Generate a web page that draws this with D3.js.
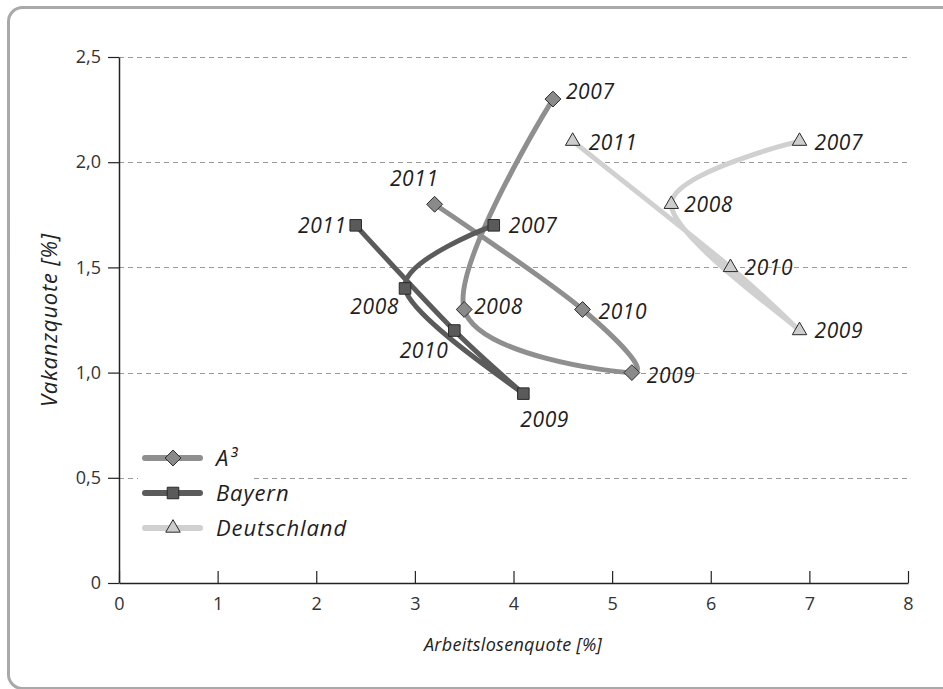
<!DOCTYPE html>
<html>
<head>
<meta charset="utf-8">
<title>Vakanzquote / Arbeitslosenquote</title>
<style>
    body {
        margin: 0;
        padding: 0;
        background: #fff;
        font-family: "Open Sans", "DejaVu Sans", sans-serif;
    }
    .tick text {
        font-family: "Open Sans", sans-serif;
        font-size: 18px;
        fill: #333;
    }
    .domain, .tick line {
        stroke: #222;
    }
    .lbl {
        font-family: "Open Sans", sans-serif;
        font-style: italic;
        font-size: 21px;
        letter-spacing: 0.6px;
        fill: #1e1e1e;
    }
</style>
</head>
<body>
<svg width="943" height="689"></svg>
<script src="https://d3js.org/d3.v7.min.js"></script>
<script>
// daten
var years = [2007, 2008, 2009, 2010, 2011];
var seriesNames = ["A³", "Bayern", "Deutschland"];
var a3X = [4.4, 3.5, 5.2, 4.7, 3.2];
var a3Y = [2.3, 1.3, 1.0, 1.3, 1.8];
var bayernX = [3.8, 2.9, 4.1, 3.4, 2.4];
var bayernY = [1.7, 1.4, 0.9, 1.2, 1.7];
var deX = [6.9, 5.6, 6.9, 6.2, 4.6];
var deY = [2.1, 1.8, 1.2, 1.5, 2.1];
var xTicks = [0, 1, 2, 3, 4, 5, 6, 7, 8];
var yTicks = [0, 0.5, 1.0, 1.5, 2.0, 2.5];

// stil pro serie
var styles = {
    "A³": { line: "#8f8f8f", fill: "#8a8a8a", symbol: d3.symbolDiamond2, size: 160 },
    "Bayern": { line: "#5b5b5b", fill: "#5a5a5a", symbol: d3.symbolSquare2, size: 170 },
    "Deutschland": { line: "#d0d0d0", fill: "#cdcdcd", symbol: d3.symbolTriangle2, size: 150 }
};

// beschriftungen: [anchor, dx, dy]
var labelPos = {
    "A³": [["start", 13, -7], ["start", 10, -3], ["start", 15, 3], ["start", 16, 2], ["end", 4, -26]],
    "Bayern": [["start", 15, 0], ["end", -6, 18], ["start", -3, 26], ["end", -6, 20], ["end", -9, 0]],
    "Deutschland": [["start", 15, 1], ["start", 13, 0], ["start", 15, 0], ["start", 14, 0], ["start", 16, 1]]
};

var seriesData = [
    { name: seriesNames[0], xs: a3X, ys: a3Y },
    { name: seriesNames[1], xs: bayernX, ys: bayernY },
    { name: seriesNames[2], xs: deX, ys: deY }
].map(function(s) {
    s.points = years.map(function(yr, i) {
        return { year: yr, x: s.xs[i], y: s.ys[i], i: i };
    });
    return s;
});

var svg = d3.select("svg");

// rahmen
svg.append("rect")
    .attr("x", 8.5)
    .attr("y", 7.5)
    .attr("width", 960)
    .attr("height", 681)
    .attr("rx", 14)
    .attr("fill", "none")
    .attr("stroke", "#a9a9a9")
    .attr("stroke-width", 3);

var x = d3.scaleLinear().domain([0, 8]).range([119, 908]);
var y = d3.scaleLinear().domain([0, 2.5]).range([583, 57]);

var fmt = function(d) { return d === 0 ? "0" : d3.format(".1f")(d).replace(".", ","); };

// gitterlinien
svg.append("g")
    .selectAll("line")
    .data(yTicks.filter(function(d) { return d > 0; }))
    .enter()
    .append("line")
    .attr("x1", x(0))
    .attr("x2", x(8))
    .attr("y1", function(d) { return Math.round(y(d)) + 0.5; })
    .attr("y2", function(d) { return Math.round(y(d)) + 0.5; })
    .attr("stroke", "#9a9a9a")
    .attr("stroke-width", 1.2)
    .attr("stroke-dasharray", "5,4");

// x-achse
var xAxis = d3.axisBottom(x).tickValues(xTicks).tickFormat(d3.format("d"))
    .tickSizeInner(-12).tickSizeOuter(0).tickPadding(25);
svg.append("g")
    .attr("transform", "translate(0," + y(0) + ")")
    .call(xAxis)
    .call(function(g) {
        g.select(".domain").attr("stroke-width", 1.5);
        g.selectAll(".tick line").attr("stroke-width", 1.2);
        g.selectAll(".tick text").attr("dy", "0.1em");
    });

// y-achse
var yAxis = d3.axisLeft(y).tickValues(yTicks).tickFormat(fmt)
    .tickSizeInner(11).tickSizeOuter(0).tickPadding(7);
svg.append("g")
    .attr("transform", "translate(" + x(0) + ",0)")
    .call(yAxis)
    .call(function(g) {
        g.select(".domain").attr("stroke-width", 1.5);
        g.selectAll(".tick line").attr("stroke-width", 1.2);
    });

// achsentitel
svg.append("text")
    .attr("x", 513)
    .attr("y", 651)
    .attr("text-anchor", "middle")
    .style("font-style", "italic")
    .style("font-size", "18px")
    .style("letter-spacing", "0.3px")
    .style("fill", "#222")
    .text("Arbeitslosenquote [%]");

svg.append("text")
    .attr("transform", "translate(57,320) rotate(-90)")
    .attr("text-anchor", "middle")
    .style("font-style", "italic")
    .style("font-size", "22px")
    .style("letter-spacing", "0.8px")
    .style("fill", "#222")
    .text("Vakanzquote [%]");

// linien
var line = d3.line()
    .x(function(d) { return x(d.x); })
    .y(function(d) { return y(d.y); })
    .curve(d3.curveCardinal.tension(0));

svg.append("g")
    .selectAll("path")
    .data(seriesData)
    .enter()
    .append("path")
    .attr("d", function(d) { return line(d.points); })
    .attr("fill", "none")
    .attr("stroke", function(d) { return styles[d.name].line; })
    .attr("stroke-width", 5)
    .attr("stroke-linecap", "round");

// marker und beschriftungen
seriesData.forEach(function(s) {
    var st = styles[s.name];
    var g = svg.append("g");
    g.selectAll("path")
        .data(s.points)
        .enter()
        .append("path")
        .attr("d", d3.symbol().type(st.symbol).size(st.size))
        .attr("transform", function(d) { return "translate(" + x(d.x) + "," + y(d.y) + ")"; })
        .attr("fill", st.fill)
        .attr("stroke", "#2a2a2a")
        .attr("stroke-width", 1);

    g.selectAll("text")
        .data(s.points)
        .enter()
        .append("text")
        .attr("class", "lbl")
        .attr("x", function(d) { return x(d.x) + labelPos[s.name][d.i][1]; })
        .attr("y", function(d) { return y(d.y) + labelPos[s.name][d.i][2]; })
        .attr("dy", "0.35em")
        .attr("text-anchor", function(d) { return labelPos[s.name][d.i][0]; })
        .text(function(d) { return d.year; });
});

// legende
var legend = svg.append("g").attr("transform", "translate(145,458)");
legend.append("rect")
    .attr("x", -7)
    .attr("y", -18)
    .attr("width", 114)
    .attr("height", 90)
    .attr("fill", "#fff");

var items = legend.selectAll("g.item")
    .data(seriesNames)
    .enter()
    .append("g")
    .attr("class", "item")
    .attr("transform", function(d, i) { return "translate(0," + (i * 35) + ")"; });

items.append("line")
    .attr("x1", 0)
    .attr("x2", 55)
    .attr("stroke", function(d) { return styles[d].line; })
    .attr("stroke-width", 6)
    .attr("stroke-linecap", "round");

items.append("path")
    .attr("d", function(d) { return d3.symbol().type(styles[d].symbol).size(styles[d].size)(); })
    .attr("transform", "translate(28,0)")
    .attr("fill", function(d) { return styles[d].fill; })
    .attr("stroke", "#2a2a2a")
    .attr("stroke-width", 1);

items.append("text")
    .attr("class", "lbl")
    .attr("x", 71)
    .attr("dy", "0.35em")
    .style("font-size", "22px")
    .style("letter-spacing", "0.9px")
    .text(function(d) { return d; });
</script>
</body>
</html>
